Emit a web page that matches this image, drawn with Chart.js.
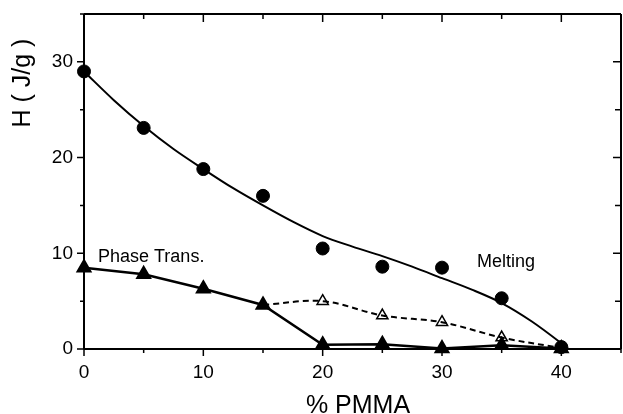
<!DOCTYPE html>
<html>
<head>
<meta charset="utf-8">
<script src="https://cdn.jsdelivr.net/npm/chart.js@4/dist/chart.umd.min.js"></script>
<style>
html,body{margin:0;padding:0;background:#fff;}
#wrap{width:623px;height:414px;position:relative;}
</style>
</head>
<body>
<div id="wrap"><canvas id="c" width="623" height="414"></canvas></div>
<script>
// Melting enthalpy (filled circles)
const meltX = [0, 5, 10, 15, 20, 25, 30, 35, 40];
const meltH = [29.0, 23.1, 18.8, 16.0, 10.5, 8.6, 8.5, 5.3, 0.2];
// Melting fit curve (solid line)
const meltFitX = [0, 2.5, 5, 7.5, 10, 12.5, 15, 17.5, 20, 22.5, 25, 27.5, 30, 32.5, 35, 37.5, 40, 40.6];
const meltFitH = [29.0, 26.0, 23.3, 20.9, 18.8, 16.8, 15.0, 13.3, 11.8, 10.7, 9.7, 8.6, 7.4, 6.2, 4.8, 2.9, 0.6, 0.0];
// Phase transition (filled triangles, solid line)
const phaseX = [0, 5, 10, 15, 20, 25, 30, 35, 40];
const phaseH = [8.5, 7.8, 6.3, 4.6, 0.45, 0.5, 0.05, 0.4, 0.05];
// Open triangles (dashed line)
const openX = [20, 25, 30, 35, 40];
const openH = [5.0, 3.5, 2.8, 1.2, 0.1];
// Axis ticks
const xTicks = [0, 10, 20, 30, 40];
const yTicks = [0, 10, 20, 30];
const xTitle = '% PMMA';
const yTitle = 'H ( J/g )';
const labelPhase = 'Phase Trans.';
const labelMelt = 'Melting';

const pts = (xs, ys) => xs.map((x, i) => ({x: x, y: ys[i]}));
const dashedPts = [{x: phaseX[3], y: phaseH[3]}].concat(pts(openX, openH));

const FONT = '"Liberation Sans", Arial, sans-serif';

const framePlugin = {
  id: 'frame',
  afterDraw(chart) {
    const ctx = chart.ctx, a = chart.chartArea;
    const xs = chart.scales.x, ys = chart.scales.y;
    ctx.save();
    ctx.strokeStyle = '#000';
    ctx.lineWidth = 2;
    ctx.beginPath();
    ctx.moveTo(a.left, a.top); ctx.lineTo(a.right, a.top);
    ctx.moveTo(a.right, a.top); ctx.lineTo(a.right, a.bottom);
    ctx.moveTo(a.left, a.bottom); ctx.lineTo(a.right, a.bottom);
    ctx.moveTo(a.left, a.top); ctx.lineTo(a.left, a.bottom);
    ctx.stroke();
    ctx.lineWidth = 1.5;
    ctx.beginPath();
    for (let v = 0; v <= 45; v += 5) {
      const px = xs.getPixelForValue(v);
      const major = v % 10 === 0;
      ctx.moveTo(px, a.bottom); ctx.lineTo(px, a.bottom + (major ? 7 : 4));
      if (v > 0 && v < 45) { ctx.moveTo(px, a.top); ctx.lineTo(px, a.top + (major ? 8 : 5)); }
    }
    for (let v = 0; v <= 35; v += 5) {
      const py = ys.getPixelForValue(v);
      const major = v % 10 === 0;
      ctx.moveTo(a.left, py); ctx.lineTo(a.left - (major ? 7 : 4), py);
      if (v > 0 && v < 35) { ctx.moveTo(a.right, py); ctx.lineTo(a.right - (major ? 8 : 6), py); }
    }
    ctx.stroke();
    // annotations
    ctx.fillStyle = '#000';
    ctx.font = '18px ' + FONT;
    ctx.textBaseline = 'middle';
    ctx.textAlign = 'left';
    ctx.fillText(labelPhase, 98, 257);
    ctx.fillText(labelMelt, 477, 262);
    // axis titles
    ctx.font = '25px ' + FONT;
    ctx.textAlign = 'center';
    ctx.textBaseline = 'alphabetic';
    ctx.fillText(xTitle, 358, 413);
    ctx.save();
    ctx.translate(30, 83);
    ctx.rotate(-Math.PI / 2);
    ctx.fillText(yTitle, 0, 0);
    ctx.restore();
    ctx.restore();
  }
};

new Chart(document.getElementById('c'), {
  type: 'scatter',
  data: {
    datasets: [
      { label: 'Melting fit', data: pts(meltFitX, meltFitH), showLine: true, borderColor: '#000', borderWidth: 2,
        pointRadius: 0, cubicInterpolationMode: 'monotone', fill: false, clip: false },
      { label: 'Dashed', data: dashedPts, showLine: true, borderColor: '#000', borderWidth: 2, borderDash: [6, 4],
        pointRadius: 0, tension: 0.35, fill: false, clip: false },
      { label: 'Phase', data: pts(phaseX, phaseH), showLine: true, borderColor: '#000', borderWidth: 2.5,
        pointStyle: 'triangle', pointRadius: 7, pointBackgroundColor: '#000', pointBorderColor: '#000', tension: 0, clip: false },
      { label: 'Open', data: pts(openX, openH), showLine: false, pointStyle: 'triangle', pointRadius: 6.5,
        pointBackgroundColor: '#fff', pointBorderColor: '#000', pointBorderWidth: 1.5, clip: false },
      { label: 'Melting', data: pts(meltX, meltH), showLine: false, pointStyle: 'circle', pointRadius: 6.5,
        pointBackgroundColor: '#000', pointBorderColor: '#000', clip: false }
    ]
  },
  options: {
    responsive: false,
    animation: false,
    layout: { autoPadding: false, padding: { top: 14, right: 2, left: 0, bottom: 0 } },
    plugins: { legend: { display: false }, tooltip: { enabled: false } },
    scales: {
      x: {
        type: 'linear', min: 0, max: 45,
        afterFit(s) { s.height = 65; s.paddingLeft = 0; s.paddingRight = 0; },
        afterBuildTicks(s) { s.ticks = xTicks.map(v => ({value: v})); },
        grid: { display: false, drawTicks: false },
        border: { display: false },
        ticks: { color: '#000', font: { size: 19, family: FONT }, padding: 12, autoSkip: false, maxRotation: 0 }
      },
      y: {
        type: 'linear', min: 0, max: 35,
        afterFit(s) { s.width = 84; s.paddingTop = 0; s.paddingBottom = 0; },
        afterBuildTicks(s) { s.ticks = yTicks.map(v => ({value: v})); },
        grid: { display: false, drawTicks: false },
        border: { display: false },
        ticks: { color: '#000', font: { size: 19, family: FONT }, padding: 11 }
      }
    }
  },
  plugins: [framePlugin]
});
</script>
</body>
</html>
